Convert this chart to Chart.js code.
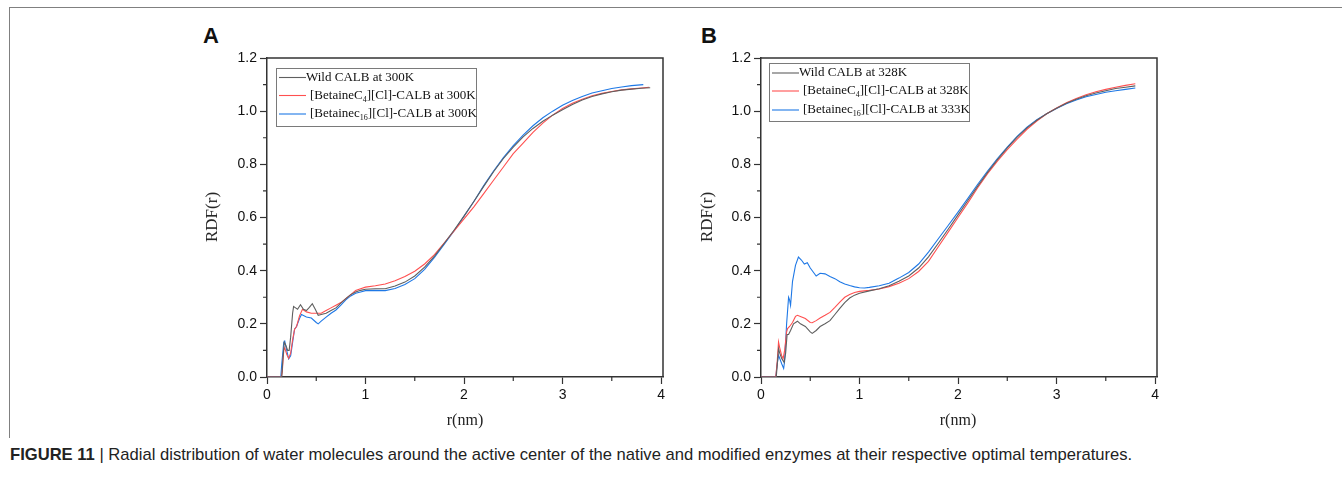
<!DOCTYPE html>
<html><head><meta charset="utf-8">
<script src="https://cdn.jsdelivr.net/npm/chart.js@4/dist/chart.umd.min.js"></script>
<style>
html,body{margin:0;padding:0;background:#fff;}
#page{position:relative;width:1342px;height:492px;overflow:hidden;background:#fff;}
.frame{position:absolute;left:9px;top:7px;width:1340px;height:430px;border-left:1px solid #808080;border-top:1px solid #808080;}
canvas{position:absolute;}
.lbl{position:absolute;font-family:'Liberation Sans',Arial,sans-serif;font-weight:bold;font-size:22px;line-height:22px;color:#111;}
.ttl{position:absolute;font-family:'Liberation Serif','Times New Roman',serif;font-size:16px;line-height:16px;color:#222;white-space:nowrap;}
.cap{position:absolute;left:10px;top:446px;font-family:'Liberation Sans',Arial,sans-serif;font-size:16.6px;line-height:18px;color:#222;white-space:nowrap;}
</style>
</head><body>
<div id="page">
  <div class="frame"></div>
  <div class="lbl" style="left:203px;top:25px;">A</div>
  <div class="lbl" style="left:701px;top:25px;">B</div>
  <canvas id="chartA" width="500" height="410" style="left:180px;top:30px;"></canvas>
  <canvas id="chartB" width="500" height="410" style="left:674px;top:30px;"></canvas>
  <div class="ttl" style="left:212px;top:217px;font-size:17px;transform:translate(-50%,-50%) rotate(-90deg);">RDF(r)</div>
  <div class="ttl" style="left:707px;top:217px;font-size:17px;transform:translate(-50%,-50%) rotate(-90deg);">RDF(r)</div>
  <div class="ttl" style="left:465px;top:420px;transform:translate(-50%,-50%);">r(nm)</div>
  <div class="ttl" style="left:958px;top:420px;transform:translate(-50%,-50%);">r(nm)</div>
  <div class="cap"><b>FIGURE 11</b> | Radial distribution of water molecules around the active center of the native and modified enzymes at their respective optimal temperatures.</div>
</div>
<script>
// ---- tick labels ----
const X_TICKS = [0, 1, 2, 3, 4];
const X_MINOR = [0.5, 1.5, 2.5, 3.5];
const Y_TICKS = [0, 0.2, 0.4, 0.6, 0.8, 1.0, 1.2];
const Y_MINOR = [0.1, 0.3, 0.5, 0.7, 0.9, 1.1];

// ---- series labels ----
const LABELS_A = ['Wild CALB at 300K', '[BetaineC4][Cl]-CALB at 300K', '[Betainec16][Cl]-CALB at 300K'];
const LABELS_B = ['Wild CALB at 328K', '[BetaineC4][Cl]-CALB at 328K', '[Betainec16][Cl]-CALB at 333K'];

// ---- Panel A: [r (nm), RDF] ----
const A_wild = [[0,0],[0.15,0],[0.16,0.06],[0.175,0.13],[0.19,0.12],[0.21,0.1],[0.225,0.1],[0.24,0.15],[0.26,0.24],[0.27,0.265],[0.29,0.26],[0.31,0.255],[0.34,0.272],[0.37,0.255],[0.4,0.25],[0.43,0.262],[0.46,0.276],[0.49,0.255],[0.52,0.232],[0.55,0.235],[0.6,0.24],[0.65,0.25],[0.7,0.26],[0.75,0.278],[0.8,0.295],[0.85,0.31],[0.9,0.32],[0.95,0.326],[1.0,0.33],[1.1,0.332],[1.2,0.332],[1.3,0.342],[1.4,0.357],[1.5,0.38],[1.6,0.413],[1.7,0.455],[1.8,0.503],[1.9,0.553],[2.0,0.605],[2.1,0.66],[2.2,0.717],[2.3,0.772],[2.4,0.822],[2.5,0.865],[2.6,0.903],[2.7,0.935],[2.8,0.962],[2.9,0.985],[3.0,1.005],[3.1,1.025],[3.2,1.042],[3.3,1.055],[3.4,1.065],[3.5,1.073],[3.6,1.079],[3.7,1.083],[3.8,1.086],[3.89,1.088]];
const A_c4 = [[0,0],[0.145,0],[0.155,0.02],[0.17,0.1],[0.18,0.11],[0.2,0.085],[0.22,0.07],[0.24,0.09],[0.26,0.14],[0.28,0.18],[0.3,0.19],[0.33,0.23],[0.36,0.255],[0.4,0.245],[0.45,0.24],[0.5,0.24],[0.55,0.24],[0.6,0.25],[0.65,0.26],[0.7,0.27],[0.75,0.28],[0.8,0.295],[0.85,0.31],[0.9,0.325],[0.95,0.332],[1.0,0.338],[1.1,0.343],[1.2,0.35],[1.3,0.362],[1.4,0.378],[1.5,0.398],[1.6,0.425],[1.7,0.46],[1.8,0.505],[1.9,0.55],[2.0,0.595],[2.1,0.64],[2.2,0.69],[2.3,0.74],[2.4,0.79],[2.5,0.84],[2.6,0.88],[2.7,0.92],[2.8,0.955],[2.9,0.985],[3.0,1.01],[3.1,1.03],[3.2,1.045],[3.3,1.058],[3.4,1.067],[3.5,1.074],[3.6,1.08],[3.7,1.084],[3.8,1.087],[3.88,1.09]];
const A_c16 = [[0,0],[0.14,0],[0.15,0.05],[0.17,0.13],[0.18,0.135],[0.2,0.1],[0.22,0.068],[0.24,0.08],[0.26,0.13],[0.28,0.18],[0.3,0.19],[0.33,0.22],[0.35,0.235],[0.4,0.226],[0.45,0.222],[0.5,0.205],[0.52,0.2],[0.55,0.21],[0.6,0.225],[0.65,0.24],[0.7,0.252],[0.75,0.27],[0.8,0.29],[0.85,0.305],[0.9,0.315],[0.95,0.32],[1.0,0.325],[1.1,0.326],[1.2,0.325],[1.3,0.333],[1.4,0.348],[1.5,0.37],[1.6,0.405],[1.7,0.45],[1.8,0.5],[1.9,0.55],[2.0,0.605],[2.1,0.66],[2.2,0.72],[2.3,0.775],[2.4,0.825],[2.5,0.87],[2.6,0.91],[2.7,0.945],[2.8,0.975],[2.9,1.0],[3.0,1.022],[3.1,1.04],[3.2,1.055],[3.3,1.068],[3.4,1.077],[3.5,1.085],[3.6,1.091],[3.7,1.096],[3.82,1.1]];

// ---- Panel B: [r (nm), RDF] ----
const B_wild = [[0,0],[0.155,0],[0.17,0.07],[0.178,0.107],[0.19,0.09],[0.21,0.07],[0.235,0.055],[0.25,0.09],[0.265,0.16],[0.28,0.16],[0.3,0.175],[0.33,0.2],[0.37,0.21],[0.4,0.2],[0.45,0.19],[0.5,0.17],[0.52,0.164],[0.56,0.175],[0.6,0.19],[0.65,0.2],[0.7,0.212],[0.75,0.235],[0.8,0.258],[0.85,0.28],[0.9,0.297],[0.95,0.308],[1.0,0.315],[1.1,0.324],[1.2,0.332],[1.3,0.343],[1.4,0.36],[1.5,0.38],[1.6,0.41],[1.7,0.452],[1.8,0.503],[1.9,0.556],[2.0,0.61],[2.1,0.664],[2.2,0.718],[2.3,0.77],[2.4,0.818],[2.5,0.862],[2.6,0.902],[2.7,0.937],[2.8,0.966],[2.9,0.99],[3.0,1.011],[3.1,1.03],[3.2,1.045],[3.3,1.058],[3.4,1.068],[3.5,1.077],[3.6,1.085],[3.7,1.09],[3.8,1.095]];
const B_c4 = [[0,0],[0.15,0],[0.165,0.06],[0.178,0.132],[0.19,0.11],[0.21,0.08],[0.225,0.07],[0.24,0.1],[0.26,0.17],[0.27,0.182],[0.29,0.19],[0.32,0.205],[0.35,0.228],[0.37,0.232],[0.4,0.228],[0.45,0.22],[0.5,0.205],[0.52,0.204],[0.56,0.212],[0.6,0.222],[0.65,0.232],[0.7,0.243],[0.75,0.262],[0.8,0.282],[0.85,0.3],[0.9,0.31],[0.95,0.318],[1.0,0.322],[1.1,0.326],[1.2,0.331],[1.3,0.34],[1.4,0.353],[1.5,0.37],[1.6,0.397],[1.7,0.435],[1.8,0.49],[1.9,0.545],[2.0,0.6],[2.1,0.655],[2.2,0.712],[2.3,0.765],[2.4,0.812],[2.5,0.855],[2.6,0.895],[2.7,0.932],[2.8,0.963],[2.9,0.99],[3.0,1.012],[3.1,1.032],[3.2,1.048],[3.3,1.062],[3.4,1.073],[3.5,1.082],[3.6,1.09],[3.7,1.097],[3.8,1.103]];
const B_c16 = [[0,0],[0.15,0],[0.165,0.05],[0.178,0.082],[0.19,0.07],[0.21,0.05],[0.23,0.032],[0.24,0.06],[0.26,0.2],[0.28,0.3],[0.29,0.29],[0.3,0.27],[0.32,0.36],[0.35,0.42],[0.38,0.451],[0.41,0.44],[0.44,0.425],[0.47,0.43],[0.5,0.41],[0.53,0.395],[0.56,0.38],[0.6,0.39],[0.65,0.388],[0.7,0.378],[0.75,0.37],[0.8,0.358],[0.85,0.35],[0.9,0.344],[0.95,0.339],[1.0,0.336],[1.05,0.335],[1.1,0.337],[1.2,0.343],[1.3,0.353],[1.4,0.372],[1.5,0.393],[1.6,0.425],[1.7,0.47],[1.8,0.52],[1.9,0.57],[2.0,0.62],[2.1,0.672],[2.2,0.725],[2.3,0.775],[2.4,0.822],[2.5,0.865],[2.6,0.905],[2.7,0.94],[2.8,0.968],[2.9,0.99],[3.0,1.01],[3.1,1.028],[3.2,1.042],[3.3,1.054],[3.4,1.063],[3.5,1.071],[3.6,1.077],[3.7,1.082],[3.8,1.087]];

const COLORS = ['rgb(95,95,95)', 'rgb(255,80,80)', 'rgb(30,120,230)'];

const SANS = "'Liberation Sans', Arial, sans-serif";
const SERIF = "'Liberation Serif', 'Times New Roman', serif";

// plugin: top/right frame and minor ticks
const framePlugin = {
  id: 'framePlugin',
  afterDraw(chart) {
    const {ctx, chartArea: a, scales} = chart;
    ctx.save();
    ctx.strokeStyle = '#333';
    ctx.lineWidth = 1.5;
    ctx.beginPath();
    ctx.moveTo(a.left, a.top); ctx.lineTo(a.right, a.top); ctx.lineTo(a.right, a.bottom);
    ctx.stroke();
    ctx.lineWidth = 1.2;
    ctx.beginPath();
    X_MINOR.forEach(v => { const px = scales.x.getPixelForValue(v); ctx.moveTo(px, a.bottom); ctx.lineTo(px, a.bottom + 4); });
    Y_MINOR.forEach(v => { const py = scales.y.getPixelForValue(v); ctx.moveTo(a.left, py); ctx.lineTo(a.left - 4, py); });
    ctx.stroke();
    ctx.restore();
  }
};

// plugin: Origin-style legend with subscripts
function parseLabel(s) {
  const m = s.match(/^(\[Betaine[Cc])(\d+)(\].*)$/);
  if (!m) return [{t: s}];
  return [{t: m[1]}, {t: m[2], sub: true}, {t: m[3]}];
}
const legendPlugin = {
  id: 'rdfLegend',
  afterDatasetsDraw(chart, args, o) {
    const {ctx, chartArea: a} = chart;
    const bx = a.left + o.dx, by = a.top + o.dy;
    ctx.save();
    ctx.fillStyle = '#fff';
    ctx.fillRect(bx, by, o.w, o.h);
    ctx.strokeStyle = '#7a7a7a';
    ctx.lineWidth = 1;
    ctx.strokeRect(bx + 0.5, by + 0.5, o.w, o.h);
    chart.data.datasets.forEach((ds, i) => {
      const y = by + o.rows[i];
      ctx.strokeStyle = ds.borderColor;
      ctx.lineWidth = 1.1;
      ctx.beginPath(); ctx.moveTo(bx + 3, y); ctx.lineTo(bx + 30, y); ctx.stroke();
      let x = bx + o.textX[i];
      ctx.fillStyle = '#111';
      ctx.textBaseline = 'middle';
      parseLabel(ds.label).forEach(p => {
        ctx.font = p.sub ? '8px ' + SERIF : '13px ' + SERIF;
        ctx.fillText(p.t, x, p.sub ? y + 4 : y);
        x += ctx.measureText(p.t).width;
      });
    });
    ctx.restore();
  }
};

function makeChart(id, series, labels, leg) {
  return new Chart(document.getElementById(id), {
    type: 'line',
    data: {
      datasets: series.map((s, i) => ({
        label: labels[i],
        data: s.map(p => ({x: p[0], y: p[1]})),
        borderColor: COLORS[i],
        borderWidth: 1.1,
        pointRadius: 0,
        tension: 0,
        fill: false
      }))
    },
    options: {
      responsive: false,
      animation: false,
      devicePixelRatio: 1,
      layout: {padding: {top: 28, right: 17, left: 0, bottom: 0}},
      plugins: {legend: {display: false}, tooltip: {enabled: false}, rdfLegend: leg},
      scales: {
        x: {
          type: 'linear', min: 0, max: 4.02,
          afterFit: s => { s.height = 63; },
          afterBuildTicks: s => { s.ticks = X_TICKS.map(v => ({value: v})); },
          ticks: {callback: v => String(v), font: {family: SANS, size: 14}, color: '#111', padding: 3, maxRotation: 0, autoSkip: false},
          grid: {drawOnChartArea: false, drawTicks: true, tickLength: 7, color: '#333', tickWidth: 1.2},
          border: {display: true, color: '#333', width: 1.5}
        },
        y: {
          type: 'linear', min: 0, max: 1.2,
          afterFit: s => { s.width = 87; },
          afterBuildTicks: s => { s.ticks = Y_TICKS.map(v => ({value: v})); },
          ticks: {callback: v => v.toFixed(1), font: {family: SANS, size: 14}, color: '#111', padding: 3, autoSkip: false},
          grid: {drawOnChartArea: false, drawTicks: true, tickLength: 7, color: '#333', tickWidth: 1.2},
          border: {display: true, color: '#333', width: 1.5}
        }
      }
    },
    plugins: [framePlugin, legendPlugin]
  });
}

makeChart('chartA', [A_wild, A_c4, A_c16], LABELS_A, {dx: 9, dy: 10, w: 200, h: 58, rows: [9.5, 27.5, 46], textX: [30, 34, 34]});
makeChart('chartB', [B_wild, B_c4, B_c16], LABELS_B, {dx: 8, dy: 5, w: 200, h: 58, rows: [10, 28, 47], textX: [30, 34, 34]});
</script>
</body></html>
